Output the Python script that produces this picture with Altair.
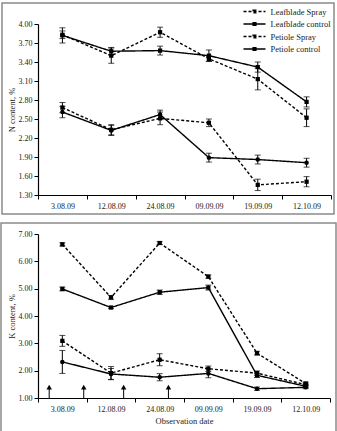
import altair as alt
import pandas as pd

dates = ["3.08.09", "12.08.09", "24.08.09", "09.09.09", "19.09.09", "12.10.09"]
series = ["Leafblade Spray", "Leafblade control", "Petiole Spray", "Petiole control"]
circle_series = ["Petiole control"]

# N content (%)
n_leaf_spray = [3.83, 3.50, 3.87, 3.45, 3.13, 2.52]
n_leaf_ctrl = [3.82, 3.57, 3.58, 3.50, 3.32, 2.77]
n_pet_spray = [2.68, 2.33, 2.51, 2.44, 1.46, 1.51]
n_pet_ctrl = [2.61, 2.32, 2.57, 1.89, 1.86, 1.81]
n_err_leaf_spray = [0.06, 0.12, 0.08, 0.04, 0.17, 0.14]
n_err_leaf_ctrl = [0.12, 0.06, 0.07, 0.09, 0.08, 0.08]
n_err_pet_spray = [0.08, 0.08, 0.10, 0.06, 0.09, 0.08]
n_err_pet_ctrl = [0.09, 0.08, 0.07, 0.07, 0.07, 0.07]

# K content (%)
k_leaf_spray = [6.62, 4.68, 6.67, 5.44, 2.64, 1.53]
k_leaf_ctrl = [4.99, 4.31, 4.87, 5.04, 1.83, 1.43]
k_pet_spray = [3.09, 1.91, 2.40, 2.07, 1.91, 1.49]
k_pet_ctrl = [2.32, 1.88, 1.76, 1.90, 1.34, 1.39]
k_err_leaf_spray = [0.06, 0.07, 0.05, 0.06, 0.07, 0.05]
k_err_leaf_ctrl = [0.07, 0.04, 0.08, 0.09, 0.08, 0.05]
k_err_pet_spray = [0.20, 0.24, 0.22, 0.10, 0.08, 0.05]
k_err_pet_ctrl = [0.42, 0.20, 0.13, 0.16, 0.06, 0.05]

# spray application arrows (position on the observation-date axis)
arrow_pos = [-0.27, 0.44, 1.26, 2.18]
arrow_base = [1.0, 1.0, 1.0, 1.0]
arrow_top = [1.40, 1.40, 1.40, 1.40]

FONT = "Liberation Serif"
TXT = "#222222"


def long_df(vals, errs):
    rows = []
    for s, v, e in zip(series, vals, errs):
        for i, (d, val, err) in enumerate(zip(dates, v, e)):
            rows.append(dict(series=s, circ=s in circle_series, idx=i, date=d,
                             value=val, lo=val - err, hi=val + err))
    return pd.DataFrame(rows)


n_df = long_df([n_leaf_spray, n_leaf_ctrl, n_pet_spray, n_pet_ctrl],
               [n_err_leaf_spray, n_err_leaf_ctrl, n_err_pet_spray, n_err_pet_ctrl])
k_df = long_df([k_leaf_spray, k_leaf_ctrl, k_pet_spray, k_pet_ctrl],
               [k_err_leaf_spray, k_err_leaf_ctrl, k_err_pet_spray, k_err_pet_ctrl])

dash_scale = alt.Scale(domain=series, range=[[3, 2], [1, 0], [3, 2], [1, 0]])
label_expr = "".join(f"datum.value == {i} ? '{d}' : " for i, d in enumerate(dates)) + "''"
x_values = [i * 0.5 - 0.5 for i in range(13)]


def panel(df, ydomain, yvalues, ytitle, xtitle, w, h, frame, legend, arrows=None):
    xs = alt.Scale(domain=[-0.5, 5.5], nice=False, zero=False)
    ys = alt.Scale(domain=ydomain, nice=False, zero=False)
    x_axis = alt.Axis(values=x_values, labelExpr=label_expr, labelOverlap=False,
                      labelBound=False, labelFlush=False,
                      tickColor={"condition": {"test": "datum.value % 1 == 0",
                                               "value": "transparent"},
                                 "value": "black"},
                      title=xtitle, grid=False)
    y_axis = alt.Axis(values=yvalues, format=".2f", title=ytitle, grid=False,
                      labelOverlap=False, labelFlush=False)

    def X(f):
        return alt.X(f, scale=xs, axis=x_axis)

    def Y(f):
        return alt.Y(f, scale=ys, axis=y_axis)

    base = alt.Chart(df)
    lines = base.mark_line(color="black", strokeWidth=1.4).encode(
        x=X("idx:Q"), y=Y("value:Q"), detail="series:N",
        strokeDash=alt.StrokeDash("series:N", scale=dash_scale, legend=legend),
    )
    pts_sq = base.transform_filter("!datum.circ").mark_point(
        filled=True, color="black", size=18, opacity=1, shape="square").encode(
        x=X("idx:Q"), y=Y("value:Q"))
    pts_ci = base.transform_filter("datum.circ").mark_point(
        filled=True, color="black", size=20, opacity=1, shape="circle").encode(
        x=X("idx:Q"), y=Y("value:Q"))
    rules = base.mark_rule(color="black", strokeWidth=1).encode(
        x=X("idx:Q"), y=Y("lo:Q"), y2="hi:Q")
    cap_lo = base.mark_tick(color="black", orient="horizontal", size=6, thickness=1).encode(
        x=X("idx:Q"), y=Y("lo:Q"))
    cap_hi = base.mark_tick(color="black", orient="horizontal", size=6, thickness=1).encode(
        x=X("idx:Q"), y=Y("hi:Q"))
    fr = alt.Chart(pd.DataFrame({"k": [0]})).mark_rect(
        fillOpacity=0, stroke="#8a8a8a", strokeWidth=1.5).encode(
        x=alt.value(frame[0]), x2=alt.value(frame[1]),
        y=alt.value(frame[2]), y2=alt.value(frame[3]))
    layers = [lines, rules, cap_lo, cap_hi, pts_sq, pts_ci]
    if arrows is not None:
        adf = pd.DataFrame({"pos": arrows[0], "base": arrows[1], "top": arrows[2]})
        ach = alt.Chart(adf)
        layers.append(ach.mark_rule(color="black", strokeWidth=1).encode(
            x=X("pos:Q"), y=Y("base:Q"), y2="top:Q"))
        layers.append(ach.mark_point(shape="triangle-up", filled=True, color="black",
                                     size=30, opacity=1).encode(x=X("pos:Q"), y=Y("top:Q")))
    layers.append(fr)
    return alt.layer(*layers).properties(width=w, height=h)


top_legend = alt.Legend(title=None, orient="none", legendX=210, legendY=-19,
                        symbolType="M-2,0H2M-0.25,-0.25H0.25V0.25H-0.25Z",
                        symbolSize=121, symbolStrokeWidth=1.4,
                        symbolStrokeColor="black", labelFont=FONT, labelFontSize=8.5,
                        labelColor=TXT, rowPadding=1.5, labelOffset=9.5)

top = panel(n_df, [1.3, 4.0], [round(1.3 + 0.3 * i, 2) for i in range(10)], "N content, %",
            None, 293, 171, (-36, 296, -21, 190), top_legend)
bottom = panel(k_df, [1.0, 7.0], [1.0 + i for i in range(7)], "K content, %",
               "Observation date", 292, 164, (-37, 298, -11, 199), None,
               arrows=(arrow_pos, arrow_base, arrow_top))

chart = alt.vconcat(top, bottom, spacing=7).resolve_legend(
    strokeDash="independent"
).properties(padding={"left": 0, "top": 2, "right": 0, "bottom": 0}).configure_view(
    stroke=None
).configure_axis(
    labelFont=FONT, titleFont=FONT, labelFontSize=8, titleFontSize=8.5,
    titleFontWeight="normal", labelColor=TXT, titleColor=TXT,
    domainColor="black", tickColor="black", tickSize=4, labelPadding=3,
    titlePadding=3, domainWidth=1.2
).configure_axisY(labelPadding=2, titlePadding=2)

chart.save("out.html", embed_options={"renderer": "svg", "actions": False})
